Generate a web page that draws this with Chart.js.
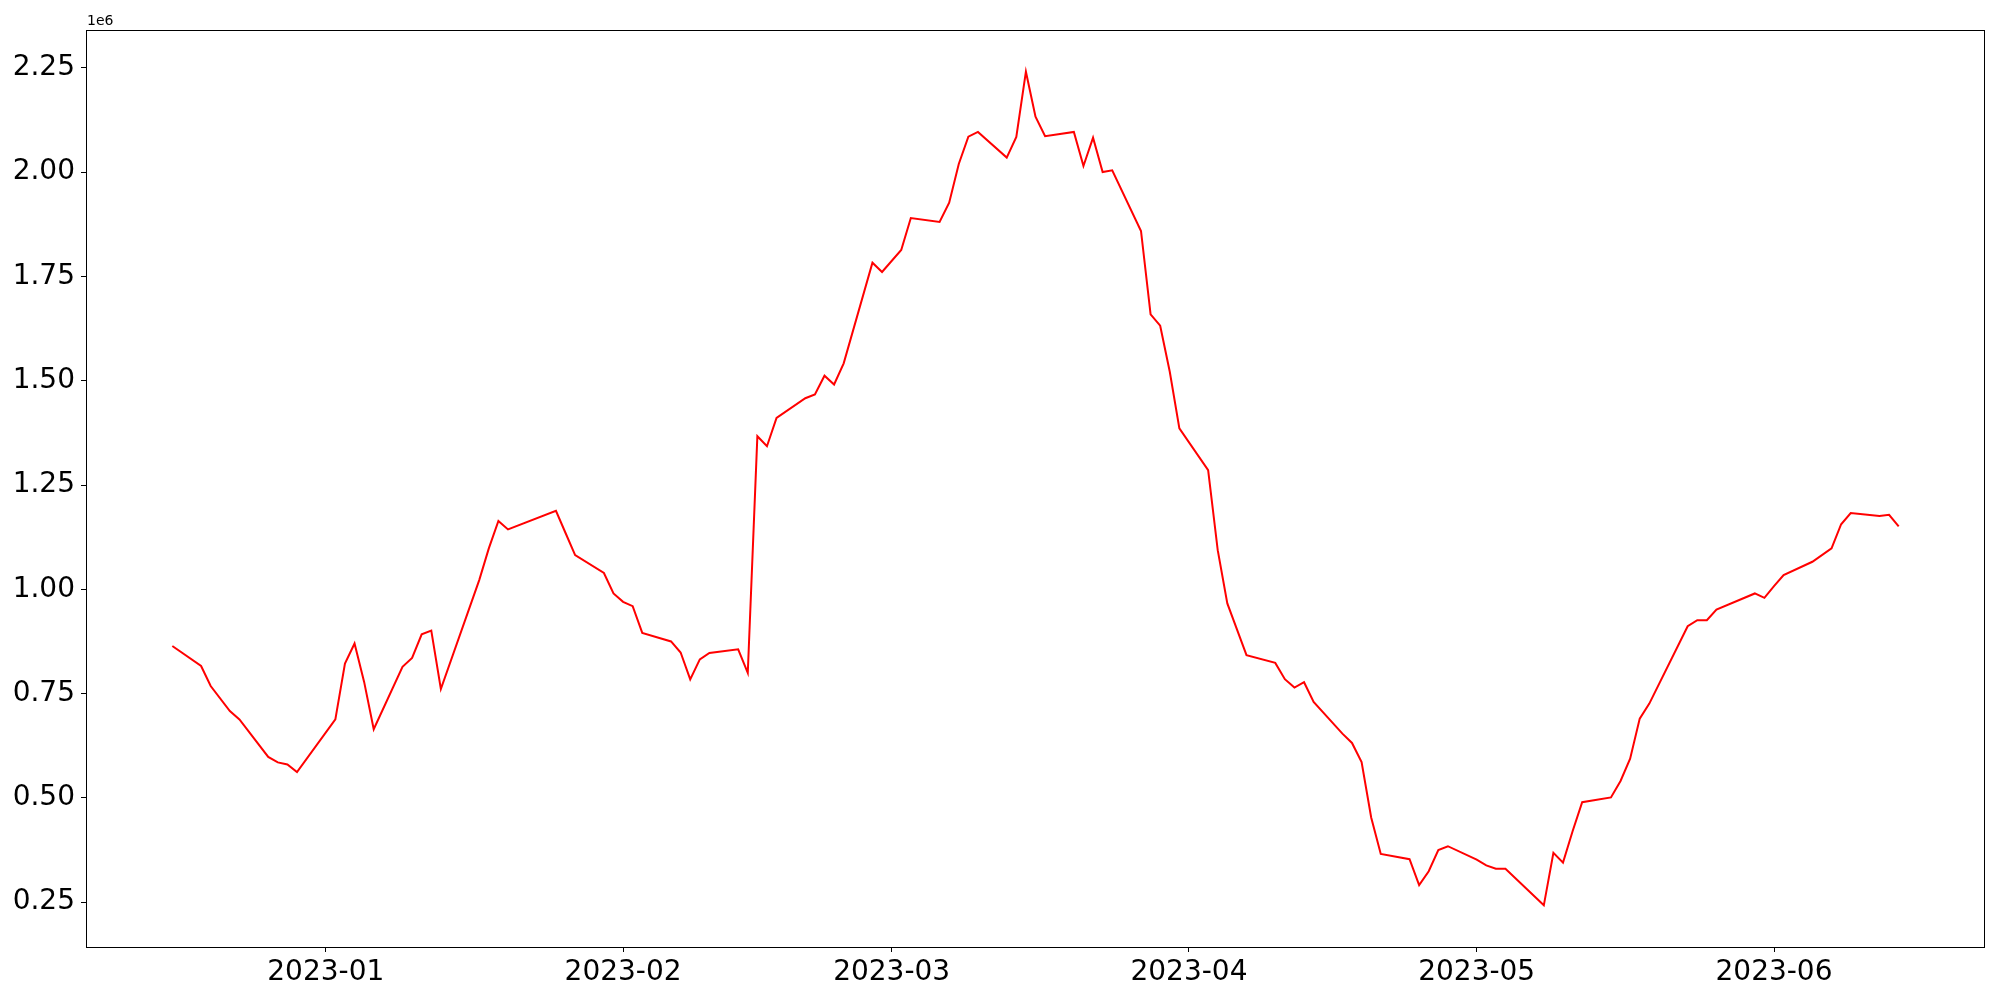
<!DOCTYPE html>
<html>
<head>
<meta charset="utf-8">
<script src="https://cdn.jsdelivr.net/npm/chart.js@4.4.0/dist/chart.umd.min.js"></script>
<style>
  html, body { margin:0; padding:0; background:#fff; }
  #wrap { width:2000px; height:1000px; }
</style>
</head>
<body>
<div id="wrap"><canvas id="chart" width="2000" height="1000"></canvas></div>
<script>
// dates of the series (business days)
const dates = [
  '2022-12-16','2022-12-19','2022-12-20','2022-12-22','2022-12-23','2022-12-26','2022-12-27','2022-12-28','2022-12-29',
  '2023-01-02','2023-01-03','2023-01-04','2023-01-05','2023-01-06','2023-01-09','2023-01-10','2023-01-11','2023-01-12','2023-01-13',
  '2023-01-17','2023-01-18','2023-01-19','2023-01-20','2023-01-25','2023-01-26','2023-01-27','2023-01-30','2023-01-31',
  '2023-02-01','2023-02-02','2023-02-03','2023-02-06','2023-02-07','2023-02-08','2023-02-09','2023-02-10','2023-02-13','2023-02-14',
  '2023-02-15','2023-02-16','2023-02-17','2023-02-20','2023-02-21','2023-02-22','2023-02-23','2023-02-24','2023-02-27','2023-02-28',
  '2023-03-02','2023-03-03','2023-03-06','2023-03-07','2023-03-08','2023-03-09','2023-03-10','2023-03-13','2023-03-14','2023-03-15',
  '2023-03-16','2023-03-17','2023-03-20','2023-03-21','2023-03-22','2023-03-23','2023-03-24','2023-03-27','2023-03-28','2023-03-29',
  '2023-03-30','2023-03-31','2023-04-03','2023-04-04','2023-04-05','2023-04-07','2023-04-10','2023-04-11','2023-04-12','2023-04-13',
  '2023-04-14','2023-04-17','2023-04-18','2023-04-19','2023-04-20','2023-04-21','2023-04-24','2023-04-25','2023-04-26','2023-04-27',
  '2023-04-28','2023-05-01','2023-05-02','2023-05-03','2023-05-04','2023-05-08','2023-05-09','2023-05-10','2023-05-11','2023-05-12',
  '2023-05-15','2023-05-16','2023-05-17','2023-05-18','2023-05-19','2023-05-23','2023-05-24','2023-05-25','2023-05-26','2023-05-30',
  '2023-05-31','2023-06-01','2023-06-02','2023-06-05','2023-06-07','2023-06-08','2023-06-09','2023-06-12','2023-06-13','2023-06-14'
];

const values = [
  864000, 816000, 768000, 708000, 688000, 598000, 585000, 580000, 562000,
  688000, 822000, 870000, 778000, 664500, 814000, 835500, 892000, 901000, 761000,
  1022000, 1098000, 1164000, 1143500, 1188000, 1135000, 1082000, 1039000, 990000,
  970000, 959500, 895500, 875000, 848500, 784000, 832000, 847500, 856000, 799500,
  1367000, 1343000, 1411000, 1458000, 1467000, 1512000, 1491000, 1541700, 1783000, 1760700,
  1813400, 1890000, 1880600, 1927000, 2019700, 2085200, 2096500, 2035000, 2084500, 2241000,
  2133200, 2086200, 2096500, 2014900, 2082800, 2000500, 2004600, 1859000, 1659000, 1632000,
  1521500, 1385700, 1285700, 1093800, 966000, 842000, 823500, 784400, 764500, 777200,
  730000, 654000, 631600, 586000, 453000, 365400, 353000, 291000, 324000, 375000,
  384000, 352000, 338000, 330000, 330000, 242300, 368000, 344700, 420000, 489400,
  501000, 540500, 594000, 690000, 726000, 911500, 926000, 926000, 951600, 990000,
  979400, 1007500, 1034000, 1066000, 1098000, 1156000, 1182600, 1176000, 1178500, 1150700
];

const xTickDates = ['2023-01-01','2023-02-01','2023-03-01','2023-04-01','2023-05-01','2023-06-01'];
const xTickLabels = ['2023-01','2023-02','2023-03','2023-04','2023-05','2023-06'];
const yTicks = [250000, 500000, 750000, 1000000, 1250000, 1500000, 1750000, 2000000, 2250000];

function dayNum(s){
  const [y,m,d] = s.split('-').map(n=>parseInt(n,10));
  return Date.UTC(y, m-1, d) / 86400000;
}

const points = dates.map((d,i)=>({ x: dayNum(d), y: values[i] }));
const xTickVals = xTickDates.map(dayNum);

// matplotlib style 5% margins
const xs = points.map(p=>p.x), ys = values;
const xMin0 = Math.min(...xs), xMax0 = Math.max(...xs);
const yMin0 = Math.min(...ys), yMax0 = Math.max(...ys);
const xPad = (xMax0-xMin0)*0.05, yPad = (yMax0-yMin0)*0.05;

const tickFont = { family:'DejaVu Sans', size:28 };

const frame = {
  id:'frame',
  afterDraw(chart){
    const { ctx, chartArea:a } = chart;
    const l = Math.round(a.left)+0.5, t = Math.round(a.top)+0.5;
    const r = Math.round(a.right)-0.5, b = Math.round(a.bottom)+0.5;
    ctx.save();
    ctx.strokeStyle = '#000';
    ctx.lineWidth = 1;
    ctx.strokeRect(l, t, r-l, b-t);
    ctx.fillStyle = '#000';
    ctx.font = '14px "DejaVu Sans"';
    ctx.textAlign = 'left';
    ctx.textBaseline = 'alphabetic';
    ctx.fillText('1e6', a.left + 1, a.top - 5);
    ctx.restore();
  }
};

new Chart(document.getElementById('chart'), {
  type:'line',
  data:{
    datasets:[{
      data: points,
      borderColor:'#ff0000',
      borderWidth:2,
      pointRadius:0,
      tension:0,
      fill:false
    }]
  },
  options:{
    responsive:false,
    animation:false,
    devicePixelRatio:1,
    layout:{ padding:{ left:0, top:30, right:15, bottom:0 } },
    plugins:{ legend:{ display:false }, tooltip:{ enabled:false } },
    scales:{
      x:{
        type:'linear',
        min: xMin0 - xPad,
        max: xMax0 + xPad,
        border:{ display:false },
        grid:{ drawOnChartArea:false, tickLength:5, tickColor:'#000', tickWidth:1 },
        ticks:{
          font: tickFont, color:'#000', padding:4, maxRotation:0, autoSkip:false,
          callback:(v)=>{ const i = xTickVals.indexOf(v); return i>=0 ? xTickLabels[i] : ''; }
        },
        afterBuildTicks:(s)=>{ s.ticks = xTickVals.map(v=>({ value:v })); },
        afterFit:(s)=>{ s.height = 53; }
      },
      y:{
        type:'linear',
        min: yMin0 - yPad,
        max: yMax0 + yPad,
        border:{ display:false },
        grid:{ drawOnChartArea:false, tickLength:5, tickColor:'#000', tickWidth:1 },
        ticks:{
          font: tickFont, color:'#000', padding:6,
          callback:(v)=> (v/1e6).toFixed(2)
        },
        afterBuildTicks:(s)=>{ s.ticks = yTicks.map(v=>({ value:v })); },
        afterFit:(s)=>{ s.width = 86; }
      }
    }
  },
  plugins:[frame]
});
</script>
</body>
</html>
